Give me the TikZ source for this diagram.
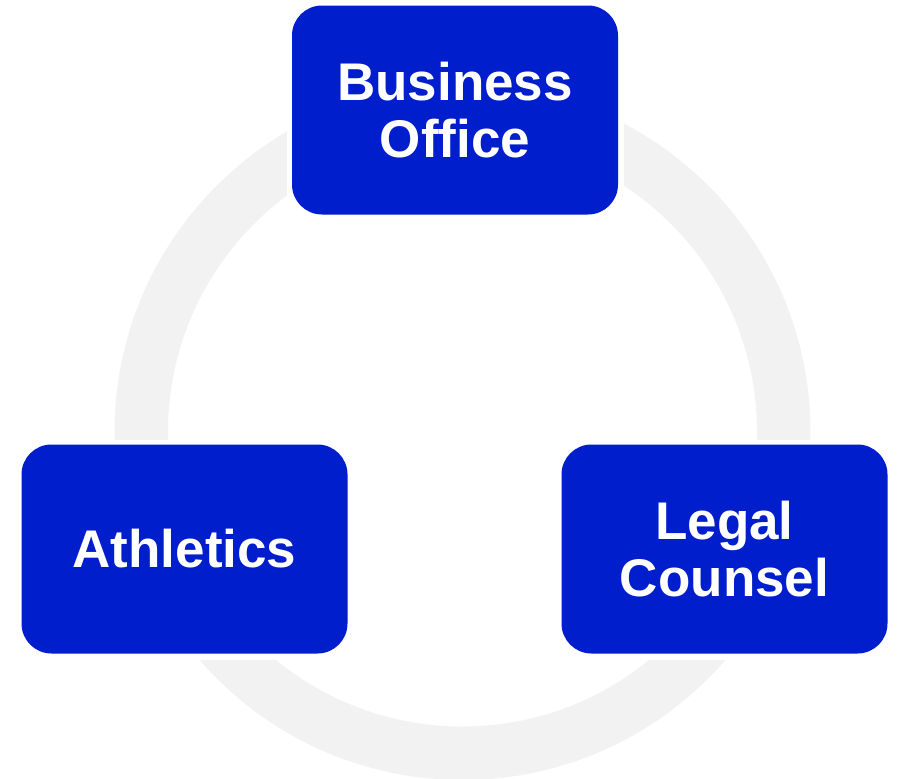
\documentclass[tikz,border=0pt]{standalone}
\usepackage{fontspec}
\setmainfont{Liberation Sans}
\definecolor{boxblue}{HTML}{001ECB}
\definecolor{ringgrey}{HTML}{F2F2F2}
\begin{document}
\begin{tikzpicture}[x=1pt,y=-1pt,
  unit/.style={draw=none, fill=boxblue, rounded corners=30pt,
    minimum width=326pt, minimum height=209pt, inner sep=0pt,
    text=white, align=center, font=\fontsize{53}{57}\selectfont\bfseries},
  cutout/.style={fill=white, draw=none, inner sep=0pt,
    minimum width=337pt, minimum height=220pt}]
\useasboundingbox (0,0) rectangle (897,779);
\clip (0,0) rectangle (897,779);
% grey ring behind the three units
\fill[ringgrey, even odd rule]
  (462.5,432) circle[radius=348] (462.5,432) circle[radius=294.5];
% white margins that cut the ring around each unit
\node[cutout] (gapB) at (455,111) {};
\node[cutout] (gapA) at (184.5,550) {};
\node[cutout] (gapL) at (724.5,550) {};
% units
\node[unit] (business) at (455,110) {Business\\Office};
\node[unit] (athletics) at (184.5,549) {Athletics};
\node[unit] (legal) at (724.5,549) {Legal\\Counsel};
\end{tikzpicture}
\end{document}
